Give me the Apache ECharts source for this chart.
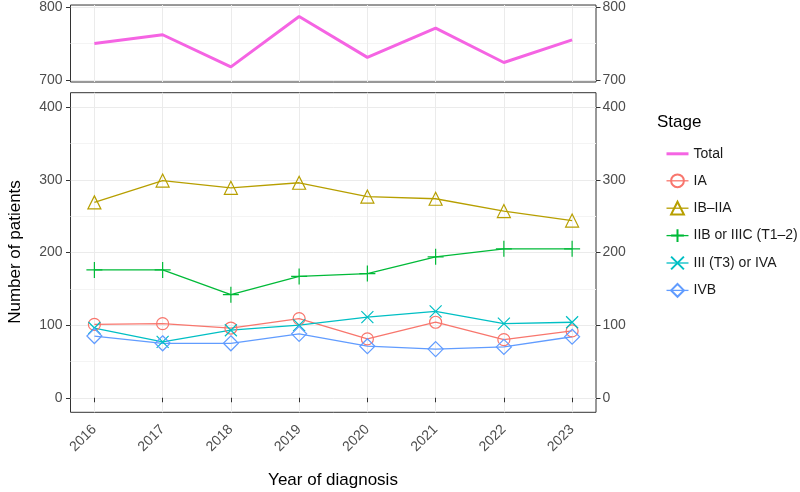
<!DOCTYPE html>
<html>
<head>
<meta charset="utf-8">
<script src="https://cdn.jsdelivr.net/npm/echarts@6/dist/echarts.min.js"></script>
<style>html,body{margin:0;padding:0;background:#fff}#c{width:800px;height:492px}</style>
</head>
<body>
<div id="c"></div>
<script>
// ---- data ----
const years = [2016, 2017, 2018, 2019, 2020, 2021, 2022, 2023];
const total = [750, 762, 718, 787, 731, 771, 724, 755];
const stageIA = [101, 102, 96, 109, 81, 104, 80, 92];
const stageIBIIA = [269, 299, 289, 296, 277, 274, 257, 244];
const stageIIB = [176, 176, 142, 167, 171, 194, 205, 205];
const stageIII = [96, 77, 93, 100, 111, 119, 102, 104];
const stageIVB = [85, 75, 75, 88, 71, 67, 70, 84];
const topTicks = [700, 800];
const topMinor = [750];
const mainTicks = [0, 100, 200, 300, 400];
const mainMinor = [50, 150, 250, 350];
const seriesNames = ['Total', 'IA', 'IB\u2013IIA', 'IIB or IIIC (T1\u20132)', 'III (T3) or IVA', 'IVB'];

const FONT = '"Liberation Sans", Arial, Helvetica, sans-serif';
const colors = {
  'Total': '#F564E3', 'IA': '#F8766D', 'IB\u2013IIA': '#B79F00',
  'IIB or IIIC (T1\u20132)': '#00BA38', 'III (T3) or IVA': '#00BFC4', 'IVB': '#619CFF'
};
const pair = (ys) => years.map((y, i) => [y, ys[i]]);

const GL = 70.5, GR = 204;
const xBase = (gi, showLabels) => ({
  type: 'value', gridIndex: gi, min: 2015.65, max: 2023.35,
  axisLine: { show: false },
  axisTick: { show: showLabels, customValues: years, length: 4.5, lineStyle: { color: '#333333', width: 1 } },
  axisLabel: { show: showLabels, customValues: years, rotate: 45, margin: 15, color: '#4D4D4D',
    fontSize: 14, fontFamily: FONT, formatter: v => String(v) },
  splitLine: { show: true, lineStyle: { color: '#EBEBEB', width: 1 } }
});
const yMain = (gi, min, max, ticks, pos, showSplit) => ({
  type: 'value', gridIndex: gi, min: min, max: max, position: pos,
  axisLine: { show: false },
  axisTick: { show: true, customValues: ticks, length: 4.5, lineStyle: { color: '#333333', width: 1 } },
  axisLabel: { show: true, customValues: ticks, margin: pos === 'left' ? 8 : 6.5, color: '#4D4D4D',
    fontSize: 14, fontFamily: FONT },
  splitLine: { show: showSplit, lineStyle: { color: '#EBEBEB', width: 1 } }
});
const yMinor = (gi, min, max, ticks) => ({
  type: 'value', gridIndex: gi, min: min, max: max, position: 'left',
  axisLine: { show: false },
  axisTick: { show: false, customValues: ticks },
  axisLabel: { show: false, customValues: ticks },
  splitLine: { show: true, lineStyle: { color: '#F4F4F4', width: 1 } }
});

const stageSeries = [
  { name: 'IA', data: stageIA, symbol: 'circle', size: 12 },
  { name: 'IB\u2013IIA', data: stageIBIIA, symbol: 'triangle', size: 13 },
  { name: 'IIB or IIIC (T1\u20132)', data: stageIIB, symbol: 'path://M0,-1L0,1M-1,0L1,0', size: 16 },
  { name: 'III (T3) or IVA', data: stageIII, symbol: 'path://M-1,-1L1,1M-1,1L1,-1', size: 12 },
  { name: 'IVB', data: stageIVB, symbol: 'diamond', size: 15 }
].map(s => ({
  type: 'line', name: s.name, xAxisIndex: 1, yAxisIndex: 3,
  data: pair(s.data), symbol: s.symbol, symbolSize: s.size, showSymbol: true,
  lineStyle: { color: colors[s.name], width: 1.3 },
  itemStyle: { color: 'rgba(0,0,0,0)', borderColor: colors[s.name], borderWidth: 1.2 },
  emphasis: { disabled: true }, animation: false, z: 3
}));

const option = {
  backgroundColor: '#ffffff',
  animation: false,
  grid: [
    { left: GL, right: GR, top: 4, height: 78, show: true, borderColor: '#333333', borderWidth: 1, backgroundColor: 'transparent' },
    { left: GL, right: GR, top: 92.7, height: 319.6, show: true, borderColor: '#333333', borderWidth: 1, backgroundColor: 'transparent' }
  ],
  xAxis: [xBase(0, false), xBase(1, true)],
  yAxis: [
    yMain(0, 697.3, 802.7, topTicks, 'left', true),
    yMain(0, 697.3, 802.7, topTicks, 'right', false),
    yMinor(0, 697.3, 802.7, topMinor),
    yMain(1, -20, 420, mainTicks, 'left', true),
    yMain(1, -20, 420, mainTicks, 'right', false),
    yMinor(1, -20, 420, mainMinor)
  ],
  legend: {
    orient: 'vertical', left: 660, top: 141.8,
    itemWidth: 22, itemHeight: 16, itemGap: 12.6,
    data: seriesNames,
    lineStyle: { width: 'inherit' },
    textStyle: { fontSize: 14, fontFamily: FONT, color: '#1A1A1A' },
    selectedMode: false
  },
  graphic: [
    { type: 'text', left: 657, top: 114, style: { text: 'Stage', fontSize: 17, fontFamily: FONT, fill: '#000' } },
    { type: 'text', x: 333, y: 480, style: { text: 'Year of diagnosis', fontSize: 17, fontFamily: FONT, fill: '#000', align: 'center', verticalAlign: 'middle' } },
    { type: 'text', x: 15, y: 252, rotation: Math.PI / 2, style: { text: 'Number of patients', fontSize: 17, fontFamily: FONT, fill: '#000', align: 'center', verticalAlign: 'middle' } }
  ],
  series: [
    { type: 'line', name: 'Total', xAxisIndex: 0, yAxisIndex: 0, data: pair(total),
      symbol: 'none', showSymbol: false,
      lineStyle: { color: colors['Total'], width: 3 },
      itemStyle: { color: 'rgba(0,0,0,0)', borderColor: 'rgba(0,0,0,0)', borderWidth: 0 },
      emphasis: { disabled: true }, animation: false, z: 3 }
  ].concat(stageSeries)
};

const chart = echarts.init(document.getElementById('c'), null, { renderer: 'canvas' });
chart.setOption(option);
</script>
</body>
</html>
